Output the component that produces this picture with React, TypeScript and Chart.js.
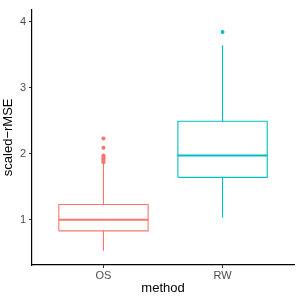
import React, { useEffect, useRef } from "react";
import { Chart, registerables } from "chart.js";

Chart.register(...registerables);

const categories = ["OS", "RW"];
const colors = ["#F8766D", "#00BFC4"];
const whiskerLow = [0.53, 1.03];
const q1 = [0.83, 1.64];
const median = [1.0, 1.97];
const q3 = [1.23, 2.49];
const whiskerHigh = [1.86, 3.64];
const outliers = [
  [1.87, 1.89, 1.91, 1.93, 1.95, 1.97, 2.09, 2.23],
  [3.84],
];
const yTicks = [1, 2, 3, 4];

const HALF = 0.375;

export default function App() {
  const ref = useRef<HTMLCanvasElement | null>(null);

  useEffect(() => {
    if (!ref.current) return;
    const datasets: any[] = [];
    categories.forEach((_, i) => {
      const x = i + 1;
      const c = colors[i];
      datasets.push({
        label: categories[i] + " box",
        data: [
          { x: x - HALF, y: q1[i] },
          { x: x + HALF, y: q1[i] },
          { x: x + HALF, y: q3[i] },
          { x: x - HALF, y: q3[i] },
          { x: x - HALF, y: q1[i] },
        ],
        showLine: true,
        borderColor: c,
        borderWidth: 1.1,
        pointRadius: 0,
        fill: false,
      });
      datasets.push({
        label: categories[i] + " whiskers",
        data: [
          { x: x, y: whiskerLow[i] },
          { x: x, y: q1[i] },
          { x: x, y: null },
          { x: x, y: q3[i] },
          { x: x, y: whiskerHigh[i] },
        ],
        showLine: true,
        spanGaps: false,
        borderColor: c,
        borderWidth: 1.1,
        pointRadius: 0,
      });
      datasets.push({
        label: categories[i] + " median",
        data: [
          { x: x - HALF, y: median[i] },
          { x: x + HALF, y: median[i] },
        ],
        showLine: true,
        borderColor: c,
        borderWidth: 2,
        pointRadius: 0,
      });
      datasets.push({
        label: categories[i] + " outliers",
        data: outliers[i].map((v) => ({ x: x, y: v })),
        showLine: false,
        pointRadius: 2,
        pointBackgroundColor: c,
        pointBorderWidth: 0,
        borderColor: c,
      });
    });

    const chart = new Chart(ref.current, {
      type: "scatter",
      data: { datasets },
      options: {
        animation: false,
        responsive: true,
        maintainAspectRatio: false,
        layout: { padding: { left: 0, right: 7, top: 5, bottom: 0 } },
        plugins: { legend: { display: false }, tooltip: { enabled: false } },
        scales: {
          x: {
            type: "linear",
            min: 0.4,
            max: 2.6,
            afterBuildTicks: (s: any) => {
              s.ticks = categories.map((_, i) => ({ value: i + 1 }));
            },
            afterFit: (s: any) => {
              s.height = 36;
            },
            ticks: {
              autoSkip: false,
              maxRotation: 0,
              padding: 1,
              color: "#4D4D4D",
              font: { family: "Liberation Sans", size: 11 },
              callback: (v: any) => categories[Number(v) - 1] ?? "",
            },
            grid: {
              drawOnChartArea: false,
              drawTicks: true,
              tickLength: 3,
              color: "#333333",
            },
            border: { display: true, color: "#000000", width: 1.2 },
            title: {
              display: true,
              text: "method",
              color: "#000000",
              font: { family: "Liberation Sans", size: 13 },
              padding: { top: 0, bottom: 5 },
            },
          },
          y: {
            type: "linear",
            min: 0.313,
            max: 4.18,
            afterBuildTicks: (s: any) => {
              s.ticks = yTicks.map((v) => ({ value: v }));
            },
            afterFit: (s: any) => {
              s.width = 32;
            },
            ticks: {
              padding: 3,
              color: "#4D4D4D",
              font: { family: "Liberation Sans", size: 11 },
            },
            grid: {
              drawOnChartArea: false,
              drawTicks: true,
              tickLength: 3,
              color: "#333333",
            },
            border: { display: true, color: "#000000", width: 1.2 },
            title: {
              display: true,
              text: "scaled−rMSE",
              color: "#000000",
              font: { family: "Liberation Sans", size: 13 },
              padding: { top: 1, bottom: 0 },
            },
          },
        },
      },
    });
    return () => chart.destroy();
  }, []);

  return (
    <div style={{ position: "absolute", left: 0, top: 0, width: 301, height: 301, background: "#fff" }}>
      <canvas ref={ref} />
    </div>
  );
}
